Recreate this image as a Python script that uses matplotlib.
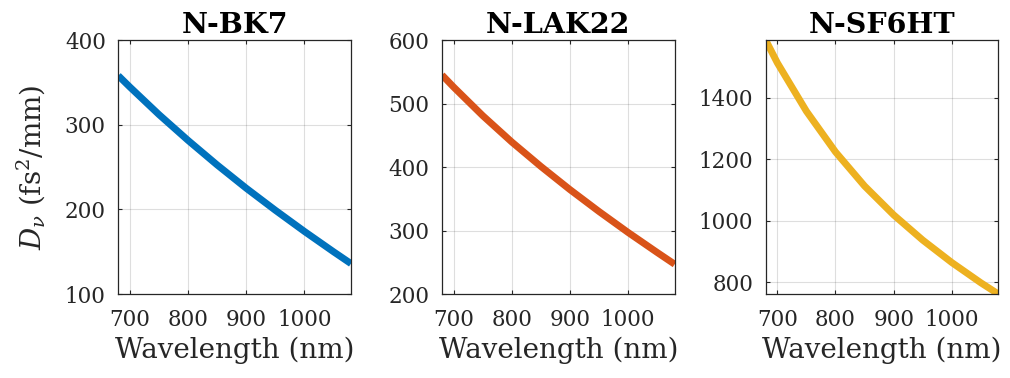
import numpy as np
import matplotlib.pyplot as plt

# wavelengths (nm) and GVD values
wl = np.array([680, 700, 750, 800, 850, 900, 950, 1000, 1050, 1080])
d_bk7 = np.array([358, 344.5, 312, 281.5, 252.5, 225, 199, 174, 150, 136])
d_lak22 = np.array([545, 526, 481, 439.5, 401, 364.5, 330, 297, 265.5, 247])
d_sf6ht = np.array([1588, 1514, 1356.5, 1224, 1113, 1019, 937, 864, 798, 761.4])

names = ["N-BK7", "N-LAK22", "N-SF6HT"]
colors = ["#0072BD", "#D95319", "#EDB120"]
ylims = [(100, 400), (200, 600), (d_sf6ht.min(), d_sf6ht.max())]
yticks = [[100, 200, 300, 400], [200, 300, 400, 500, 600], [800, 1000, 1200, 1400]]

plt.rcParams['font.family'] = ['DejaVu Serif']
plt.rcParams['mathtext.fontset'] = 'dejavuserif'

fig = plt.figure(figsize=(10.1, 3.78), dpi=100)
lefts = [0.1171, 0.4376, 0.7581]
txt = "#262626"

for i, d in enumerate([d_bk7, d_lak22, d_sf6ht]):
    ax = fig.add_axes([lefts[i], 0.222, 0.2304, 0.672])
    ax.plot(wl, d, color=colors[i], lw=5, solid_capstyle='butt')
    ax.set_xlim(680, 1080)
    ax.set_ylim(*ylims[i])
    ax.set_xticks([700, 800, 900, 1000])
    ax.set_yticks(yticks[i])
    ax.grid(True, color='#000000', alpha=0.13, lw=0.8)
    ax.tick_params(direction='in', length=3, width=0.8, top=True, right=True,
                   labelsize=15.5, colors=txt, labelcolor=txt)
    ax.tick_params(axis='x', pad=11)
    ax.tick_params(axis='y', pad=9)
    for s in ax.spines.values():
        s.set_color(txt)
        s.set_linewidth(0.9)
    ax.set_title(names[i], fontsize=20.5, fontweight='bold', pad=5)
    ax.set_xlabel("Wavelength (nm)", fontsize=20, color=txt, labelpad=4)
    if i == 0:
        ax.set_ylabel(r"$D_\nu$ (fs$^2$/mm)", fontsize=20, color=txt, labelpad=12)

fig.savefig("out.png", dpi=100)
